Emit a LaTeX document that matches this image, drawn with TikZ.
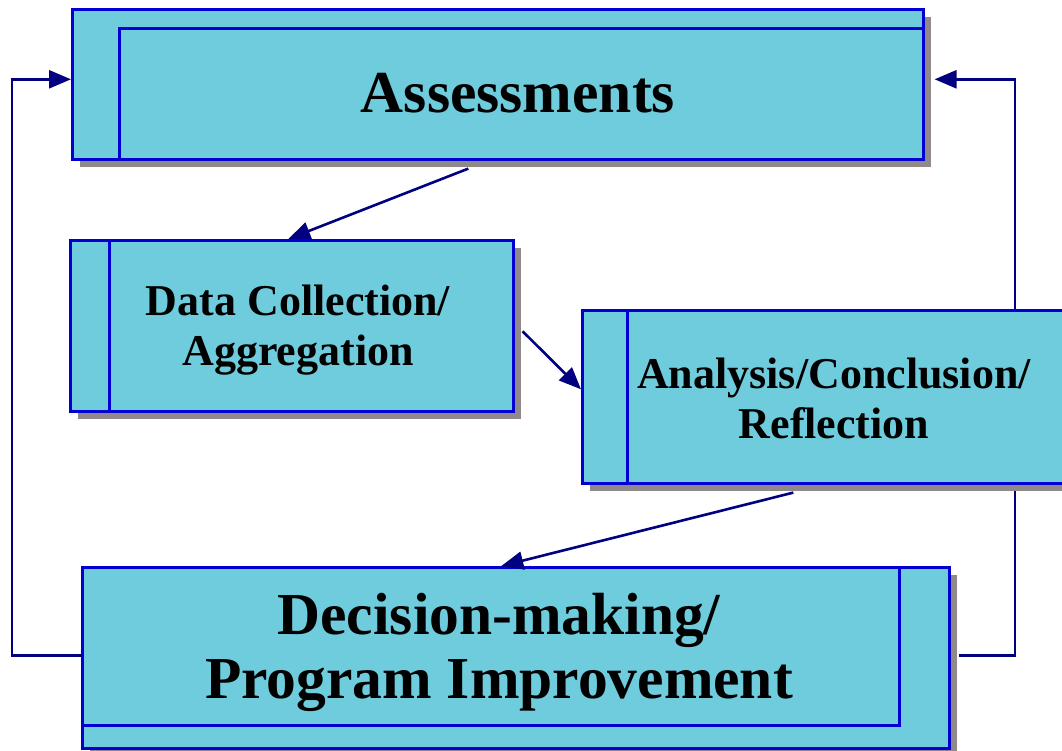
\documentclass[tikz,border=0pt]{standalone}
\usepackage{fontspec}
\setmainfont{Liberation Serif}
\usetikzlibrary{arrows.meta,shadows}
\definecolor{boxfill}{RGB}{110,204,220}
\definecolor{boxline}{RGB}{0,0,210}
\definecolor{shadowgrey}{RGB}{145,137,137}
\definecolor{navyline}{RGB}{0,0,128}
\tikzset{
  backbox/.style={draw=boxline,fill=boxfill,line width=2.6pt,anchor=north west,inner sep=0pt,
    general shadow={fill=shadowgrey,shadow xshift=8pt,shadow yshift=-8pt}},
  frontbox/.style={draw=boxline,fill=boxfill,line width=2.6pt,anchor=north west,inner sep=0pt},
  bigtext/.style={font=\fontsize{59.5}{64}\selectfont\bfseries,align=center},
  smalltext/.style={font=\fontsize{44}{50}\selectfont\bfseries,align=center},
  flow/.style={draw=navyline,line width=2.6pt,-{Triangle[length=22pt,width=18pt]}}
}
\begin{document}
\begin{tikzpicture}[x=1pt,y=-1pt]
\useasboundingbox (0,0) rectangle (1062,750);
% top box
\node [backbox,minimum width=851pt,minimum height=150pt] (assessBack) at (71,8) {};
\node [frontbox,minimum width=804pt,minimum height=131pt] (assess) at (118,27) {};
\node [bigtext] (assessText) at (518,93) {Assessments};
% bottom box
\node [backbox,minimum width=867pt,minimum height=181pt] (decisionBack) at (81,566) {};
\node [frontbox,minimum width=817pt,minimum height=158pt] (decision) at (81,566) {};
\node [bigtext] (decisionText) at (499,652) {Decision-making/\\Program Improvement};
% feedback loops
\coordinate (leftRail) at (12,0);
\coordinate (rightRail) at (1015,0);
\draw [flow] ([yshift=2.5pt]decisionBack.west) -- ([yshift=2.5pt]decisionBack.west -| leftRail) |- ([yshift=5pt]assessBack.west);
\draw [flow] ([xshift=8pt,yshift=2.5pt]decisionBack.east) -- ([yshift=2.5pt]decisionBack.east -| rightRail) |- ([xshift=10pt,yshift=5pt]assessBack.east);
% middle boxes
\node [backbox,minimum width=443pt,minimum height=171pt] (dataBack) at (69,239) {};
\node [frontbox,minimum width=404pt,minimum height=171pt] (data) at (108,239) {};
\node [smalltext] (dataText) at (298,330) {Data Collection/\\Aggregation};
\node [backbox,minimum width=489pt,minimum height=173pt] (analysisBack) at (581,309) {};
\node [frontbox,minimum width=444pt,minimum height=173pt] (analysis) at (626,309) {};
\node [smalltext] (analysisText) at (834,398) {Analysis/Conclusion/\\Reflection};
% steps
\draw [flow] ([xshift=-29.5pt,yshift=-8pt]assessBack.south) -- ([xshift=-23pt]data.north);
\draw [flow] ([xshift=8pt,yshift=-5.5pt]dataBack.east) -- ([yshift=7.5pt]analysisBack.west);
\draw [flow] ([xshift=-56pt,yshift=-8pt]analysis.south) -- ([xshift=-14.5pt]decisionBack.north);
\end{tikzpicture}
\end{document}
